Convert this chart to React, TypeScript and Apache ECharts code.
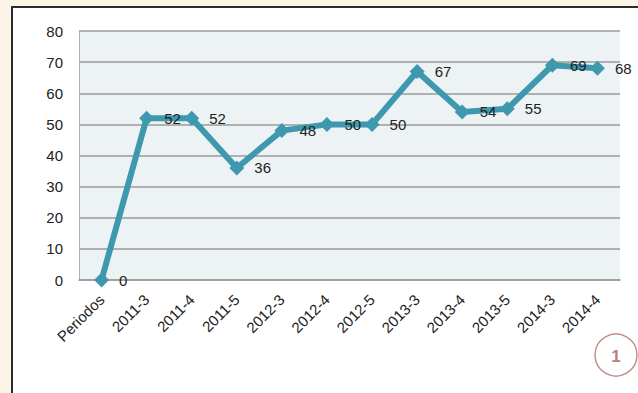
import React, { useEffect, useRef } from "react";
import * as echarts from "echarts";

const categories = ["Periodos", "2011-3", "2011-4", "2011-5", "2012-3", "2012-4", "2012-5", "2013-3", "2013-4", "2013-5", "2014-3", "2014-4"];
const values = [0, 52, 52, 36, 48, 50, 50, 67, 54, 55, 69, 68];
const badgeText = "1";

export default function App() {
  const ref = useRef<HTMLDivElement>(null);
  useEffect(() => {
    if (!ref.current) return;
    const chart = echarts.init(ref.current, undefined, { renderer: "svg" });
    const font = "'Liberation Sans', Arial, sans-serif";
    chart.setOption({
      animation: false,
      backgroundColor: "#fdf4e8",
      textStyle: { fontFamily: font },
      graphic: [
        {
          type: "rect",
          z: -10,
          silent: true,
          shape: { x: 12, y: 7, width: 640, height: 400 },
          style: { fill: "#ffffff", stroke: "#2b2b2b", lineWidth: 2 },
        },
        {
          type: "circle",
          shape: { cx: 616, cy: 355, r: 21 },
          style: { fill: "#ffffff", stroke: "#c4908f", lineWidth: 1.5 },
        },
        {
          type: "text",
          x: 616,
          y: 356,
          style: {
            text: badgeText,
            fill: "#b8807f",
            font: "bold 17px " + font,
            align: "center",
            verticalAlign: "middle",
          },
        },
      ],
      grid: {
        left: 79,
        right: 18,
        top: 31,
        bottom: 113,
        show: true,
        backgroundColor: "#edf2f5",
        borderWidth: 0,
      },
      xAxis: {
        type: "category",
        data: categories,
        boundaryGap: true,
        axisLine: { show: true, lineStyle: { color: "#9a9a9a", width: 1.5 } },
        axisTick: { show: false },
        axisLabel: {
          rotate: 45,
          interval: 0,
          margin: 17,
          fontSize: 15,
          color: "#222",
          fontFamily: font,
        },
      },
      yAxis: {
        type: "value",
        min: 0,
        max: 80,
        interval: 10,
        axisLine: { show: true, lineStyle: { color: "#b0b0b0", width: 1 } },
        axisTick: { show: false },
        axisLabel: { fontSize: 15, color: "#222", margin: 16, fontFamily: font },
        splitLine: { show: true, lineStyle: { color: "#9a9a9a", width: 1.5 } },
      },
      series: [
        {
          type: "line",
          data: values,
          symbol: "diamond",
          symbolSize: 15,
          lineStyle: { color: "#3e98ae", width: 6 },
          itemStyle: { color: "#3e98ae" },
          label: {
            show: true,
            position: "right",
            distance: 10,
            fontSize: 15,
            color: "#222",
            fontFamily: font,
          },
        },
      ],
    });
    return () => chart.dispose();
  }, []);
  return (
    <div
      ref={ref}
      style={{ position: "absolute", left: 0, top: 0, width: 638, height: 393 }}
    />
  );
}
